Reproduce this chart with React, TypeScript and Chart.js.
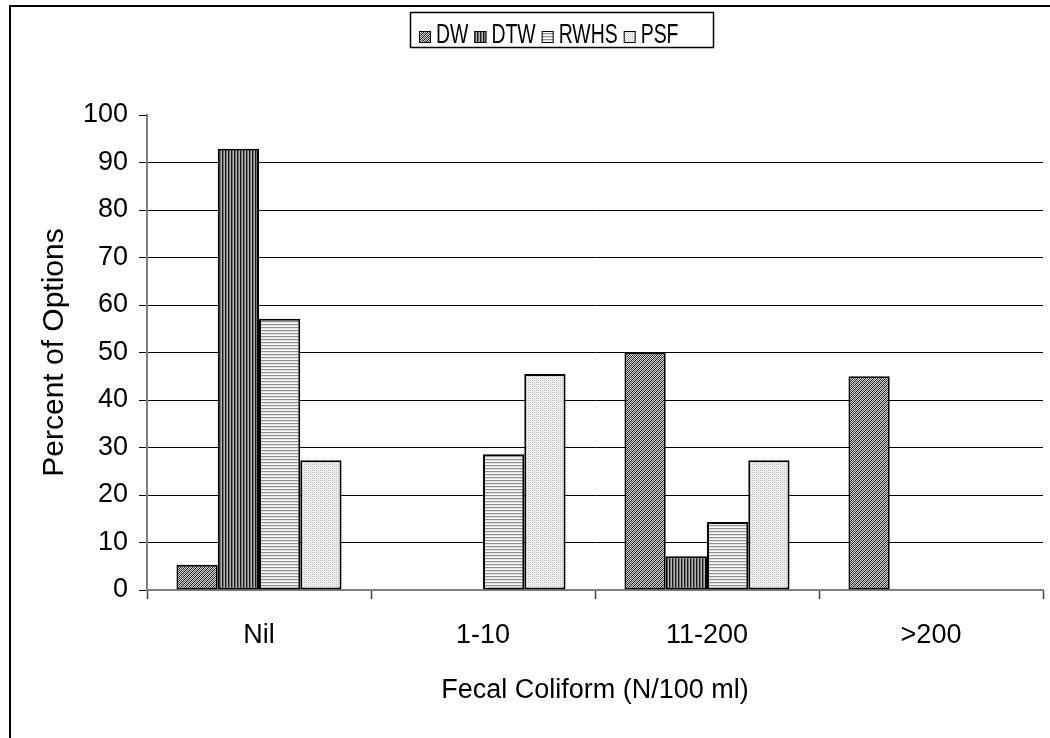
import React, { useEffect, useRef } from 'react';
import { Chart, registerables } from 'chart.js';

Chart.register(...registerables);

const categories = ['Nil', '1-10', '11-200', '>200'];
const seriesNames = ['DW', 'DTW', 'RWHS', 'PSF'];
const dwValues = [5.3, 0, 50, 45];
const dtwValues = [92.9, 0, 7.1, 0];
const rwhsValues = [57.1, 28.6, 14.3, 0];
const psfValues = [27.3, 45.5, 27.3, 0];
const yMin = 0;
const yMax = 100;
const yStep = 10;
const xTitle = 'Fecal Coliform (N/100 ml)';
const yTitle = 'Percent of Options';

const FAMILY = '"Liberation Sans", Arial, sans-serif';

function makePattern(w: number, h: number, colorAt: (x: number, y: number) => string): CanvasPattern {
  const c = document.createElement('canvas');
  c.width = w;
  c.height = h;
  const g = c.getContext('2d') as CanvasRenderingContext2D;
  for (let y = 0; y < h; y++) {
    for (let x = 0; x < w; x++) {
      g.fillStyle = colorAt(x, y);
      g.fillRect(x, y, 1, 1);
    }
  }
  return g.createPattern(c, 'repeat') as CanvasPattern;
}

const framePlugin = {
  id: 'frame',
  beforeDraw(chart: any) {
    const ctx = chart.ctx as CanvasRenderingContext2D;
    ctx.save();
    ctx.fillStyle = '#fff';
    ctx.fillRect(0, 0, chart.width, chart.height);
    ctx.strokeStyle = '#000';
    ctx.lineWidth = 2;
    ctx.beginPath();
    ctx.moveTo(10, chart.height + 5);
    ctx.lineTo(10, 6);
    ctx.lineTo(chart.width + 5, 6);
    ctx.stroke();
    ctx.restore();
  },
};

const legendPlugin = {
  id: 'boxLegend',
  afterDraw(chart: any) {
    const ctx = chart.ctx as CanvasRenderingContext2D;
    ctx.save();
    ctx.strokeStyle = '#000';
    ctx.lineWidth = 1.5;
    ctx.strokeRect(410.5, 12.5, 303, 35);
    ctx.font = '27px ' + FAMILY;
    ctx.textBaseline = 'alphabetic';
    const sx = 0.72;
    let x = 419;
    chart.data.datasets.forEach((ds: any) => {
      ctx.fillStyle = ds.backgroundColor;
      ctx.fillRect(x, 31, 12, 12);
      ctx.strokeStyle = '#000';
      ctx.lineWidth = 1;
      ctx.strokeRect(x + 0.5, 31.5, 11, 11);
      const w = ctx.measureText(ds.label).width * sx;
      ctx.save();
      ctx.translate(x + 17, 43);
      ctx.scale(sx, 1);
      ctx.fillStyle = '#000';
      ctx.fillText(ds.label, 0, 0);
      ctx.restore();
      x += 17 + w + 6;
    });
    ctx.restore();
  },
};

export default function App() {
  const canvasRef = useRef<HTMLCanvasElement | null>(null);

  useEffect(() => {
    const canvas = canvasRef.current;
    if (!canvas) return;

    const dwPat = makePattern(4, 4, (x, y) => {
      const k = (x + y) % 4;
      return k === 3 ? '#111111' : k === 1 ? '#5a5a5a' : '#d4d4d4';
    });
    const dtwPat = makePattern(3, 1, (x) => (x === 0 ? '#181818' : x === 1 ? '#757575' : '#b4b4b4'));
    const rwhsPat = makePattern(1, 3, (_x, y) => (y === 0 ? '#8e8e8e' : y === 1 ? '#e2e2e2' : '#f8f8f8'));
    const psfPat = makePattern(2, 2, (x, y) =>
      x === 0 && y === 0 ? '#c0c0c0' : x === 1 && y === 1 ? '#e0e0e0' : '#f8f8f8'
    );

    const values = [dwValues, dtwValues, rwhsValues, psfValues];
    const patterns = [dwPat, dtwPat, rwhsPat, psfPat];

    const chart = new Chart(canvas, {
      type: 'bar',
      data: {
        labels: categories,
        datasets: seriesNames.map((name, i) => ({
          label: name,
          data: values[i],
          backgroundColor: patterns[i] as any,
          borderColor: '#000',
          borderWidth: 2,
          borderSkipped: false as any,
          categoryPercentage: 0.737,
          barPercentage: 1,
        })),
      },
      options: {
        responsive: false,
        animation: false,
        devicePixelRatio: 1,
        layout: { padding: { top: 115, right: 7, bottom: 0, left: 0 } },
        plugins: {
          legend: { display: false },
          tooltip: { enabled: false },
        },
        scales: {
          x: {
            offset: true,
            grid: {
              display: true,
              offset: true,
              drawOnChartArea: false,
              drawTicks: true,
              tickLength: 9,
              tickColor: '#404040',
              tickWidth: 1.5,
            },
            border: { display: true, color: '#808080', width: 2 },
            ticks: {
              font: { size: 27, family: FAMILY },
              color: '#000',
              padding: 20,
              maxRotation: 0,
              autoSkip: false,
            },
            title: {
              display: true,
              text: xTitle,
              font: { size: 27, family: FAMILY },
              color: '#000',
              padding: { top: 0, bottom: 31 },
            },
            afterFit: (s: any) => {
              s.height = 148;
            },
          },
          y: {
            min: yMin,
            max: yMax,
            ticks: {
              stepSize: yStep,
              font: { size: 27, family: FAMILY },
              color: '#000',
              padding: 11,
            },
            grid: {
              color: (c: any) =>
                c.tick && (c.tick.value === yMin || c.tick.value === yMax) ? 'rgba(0,0,0,0)' : '#000',
              lineWidth: 1,
              tickLength: 8,
              tickColor: '#000',
              drawTicks: true,
            },
            border: { display: true, color: '#808080', width: 2 },
            title: {
              display: true,
              text: yTitle,
              font: { size: 30, family: FAMILY },
              color: '#000',
              padding: { top: 37, bottom: 0 },
            },
            afterFit: (s: any) => {
              s.width = 147;
            },
          },
        },
      },
      plugins: [framePlugin, legendPlugin],
    });

    return () => {
      chart.destroy();
    };
  }, []);

  return (
    <div style={{ position: 'fixed', left: 0, top: 0, width: 1050, height: 738, background: '#fff' }}>
      <canvas ref={canvasRef} width={1050} height={738} style={{ display: 'block', width: 1050, height: 738 }} />
    </div>
  );
}
